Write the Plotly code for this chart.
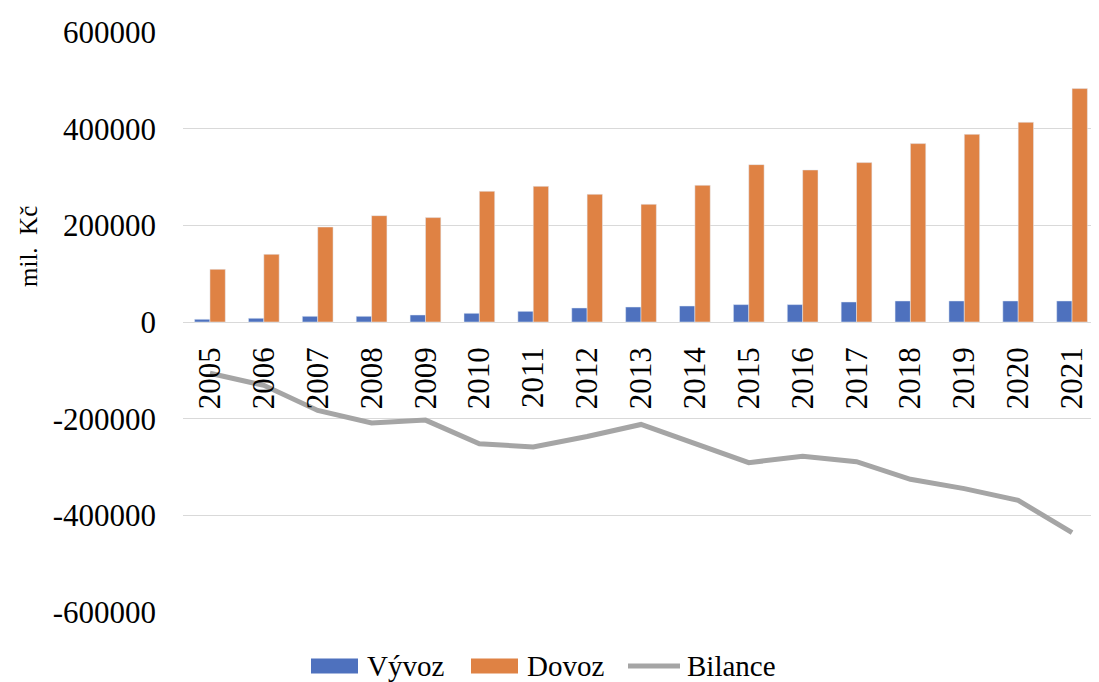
import plotly.graph_objects as go

years = [str(y) for y in range(2005, 2022)]
vyvoz = [5600, 7700, 11800, 11800, 14500, 18000, 22100, 29000, 31000,
         33100, 36000, 36000, 41400, 43500, 43500, 43500, 43500]
dovoz = [109000, 140000, 196500, 220000, 216000, 270400, 280700, 264200, 243500,
         282800, 325600, 314500, 329800, 369100, 388300, 413200, 482900]
bilance = [-106000, -131000, -183000, -209000, -203000, -252000, -258600, -237000, -212000,
           -251000, -291000, -278000, -289000, -325500, -344800, -369000, -436000]
y_ticks = [-600000, -400000, -200000, 0, 200000, 400000, 600000]

BLUE = "#4E71BE"
ORANGE = "#DF8244"
GRAY = "#A5A5A5"
FONT = "Liberation Serif, Times New Roman, serif"

# page body has an 8px margin, so the figure is drawn shifted by OFF
OFF = 8
W, H = 1099 - OFF, 682 - OFF
L, R, T, B = 183 - OFF, 0, 32 - OFF, 70


def px_x(p):
    # p is a page pixel of the reference
    return (p - OFF - L) / (W - L - R)


def px_y(p):
    return (H - B - (p - OFF)) / (H - T - B)


fig = go.Figure()
fig.add_trace(go.Bar(x=years, y=vyvoz, name="Vývoz", marker_color=BLUE))
fig.add_trace(go.Bar(x=years, y=dovoz, name="Dovoz", marker_color=ORANGE))
fig.add_trace(go.Scatter(x=years, y=bilance, name="Bilance", mode="lines",
                         line=dict(color=GRAY, width=5)))

fig.update_layout(
    width=W, height=H,
    margin=dict(l=L, r=R, t=T, b=B),
    plot_bgcolor="white", paper_bgcolor="white",
    barmode="group", bargap=0.43, bargroupgap=0,
    showlegend=False,
    font=dict(family=FONT, color="black"),
)
fig.update_yaxes(
    range=[-600000, 600000],
    tickvals=y_ticks, ticktext=[str(v) for v in y_ticks],
    showgrid=True, gridcolor="#D9D9D9", gridwidth=1.3,
    zeroline=True, zerolinecolor="#D9D9D9", zerolinewidth=1.3,
    ticks="", ticklabelstandoff=26,
    tickfont=dict(size=31, family=FONT, color="black"),
)
fig.update_xaxes(
    type="category", anchor="free", position=0.5,
    showgrid=False, showline=False, ticks="",
    tickangle=-90, ticklabelstandoff=18,
    tickfont=dict(size=31, family=FONT, color="black"),
)

annotations = [
    dict(text="mil.  Kč", x=px_x(28), y=px_y(247), xref="paper", yref="paper",
         textangle=-90, showarrow=False, font=dict(size=25, family=FONT, color="black"),
         xanchor="center", yanchor="middle"),
]
shapes = []
legend_y = 666
items = [("Vývoz", BLUE, "rect", 311, 358, 365),
         ("Dovoz", ORANGE, "rect", 471, 518, 525),
         ("Bilance", GRAY, "line", 628, 680, 685)]
for label, col, kind, x0, x1, tx in items:
    if kind == "rect":
        shapes.append(dict(type="rect", xref="paper", yref="paper",
                           x0=px_x(x0), x1=px_x(x1), y0=px_y(legend_y + 7.5), y1=px_y(legend_y - 7.5),
                           fillcolor=col, line=dict(width=0)))
    else:
        shapes.append(dict(type="line", xref="paper", yref="paper",
                           x0=px_x(x0), x1=px_x(x1), y0=px_y(legend_y), y1=px_y(legend_y),
                           line=dict(color=col, width=5)))
    annotations.append(dict(text=label, x=px_x(tx), y=px_y(legend_y), xref="paper", yref="paper",
                            showarrow=False, xanchor="left", yanchor="middle",
                            font=dict(size=29, family=FONT, color="black")))

fig.update_layout(annotations=annotations, shapes=shapes)
fig.write_html("out.html")
